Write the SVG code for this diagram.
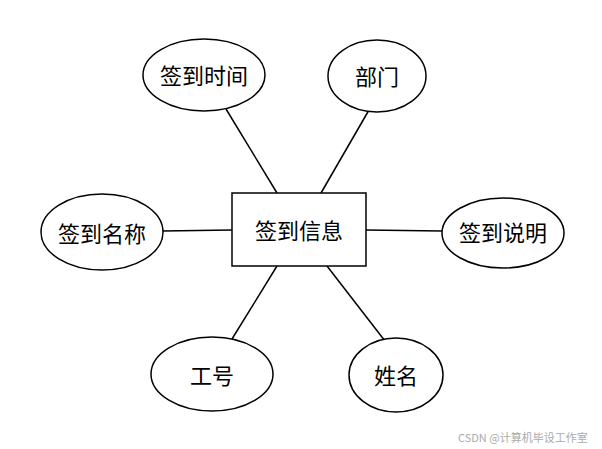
<svg xmlns="http://www.w3.org/2000/svg" width="602" height="449" viewBox="0 0 602 449">
<style>
.shape{fill:#fff;stroke:#000;stroke-width:1.5}
.lbl{font-family:"Noto Sans CJK SC","Noto Sans",sans-serif;font-size:22px;fill:#000;text-anchor:middle;dominant-baseline:central}
.conn line{stroke:#000;stroke-width:1.5}
.wm{font-family:"Noto Sans CJK SC","Liberation Sans",sans-serif;font-size:11px;fill:#aaa}
</style>
<rect width="602" height="449" fill="#fff"/>
<g class="conn" id="connectors">
<line x1="226" y1="109" x2="277" y2="193"/>
<line x1="369" y1="110" x2="321" y2="193"/>
<line x1="163" y1="231" x2="232" y2="230"/>
<line x1="366" y1="230" x2="442" y2="231"/>
<line x1="277" y1="266" x2="232" y2="339"/>
<line x1="327" y1="266" x2="385" y2="341"/>
</g>
<g id="entity">
<rect class="shape" x="232" y="193" width="134" height="73"/>
<text class="lbl" x="299" y="229">签到信息</text>
</g>
<g id="attr-time">
<ellipse class="shape" cx="204" cy="75" rx="61" ry="36"/>
<text class="lbl" x="204" y="74">签到时间</text>
</g>
<g id="attr-dept">
<ellipse class="shape" cx="377" cy="76" rx="49" ry="36"/>
<text class="lbl" x="377" y="75">部门</text>
</g>
<g id="attr-name">
<ellipse class="shape" cx="102" cy="232" rx="61" ry="38"/>
<text class="lbl" x="102" y="232">签到名称</text>
</g>
<g id="attr-desc">
<ellipse class="shape" cx="503" cy="233" rx="61" ry="35"/>
<text class="lbl" x="503" y="231">签到说明</text>
</g>
<g id="attr-id">
<ellipse class="shape" cx="212" cy="374" rx="61" ry="37"/>
<text class="lbl" x="212" y="374">工号</text>
</g>
<g id="attr-xm">
<ellipse class="shape" cx="396" cy="375" rx="47" ry="37"/>
<text class="lbl" x="396" y="374">姓名</text>
</g>
<text class="wm" x="458" y="442">CSDN @计算机毕设工作室</text>
</svg>
